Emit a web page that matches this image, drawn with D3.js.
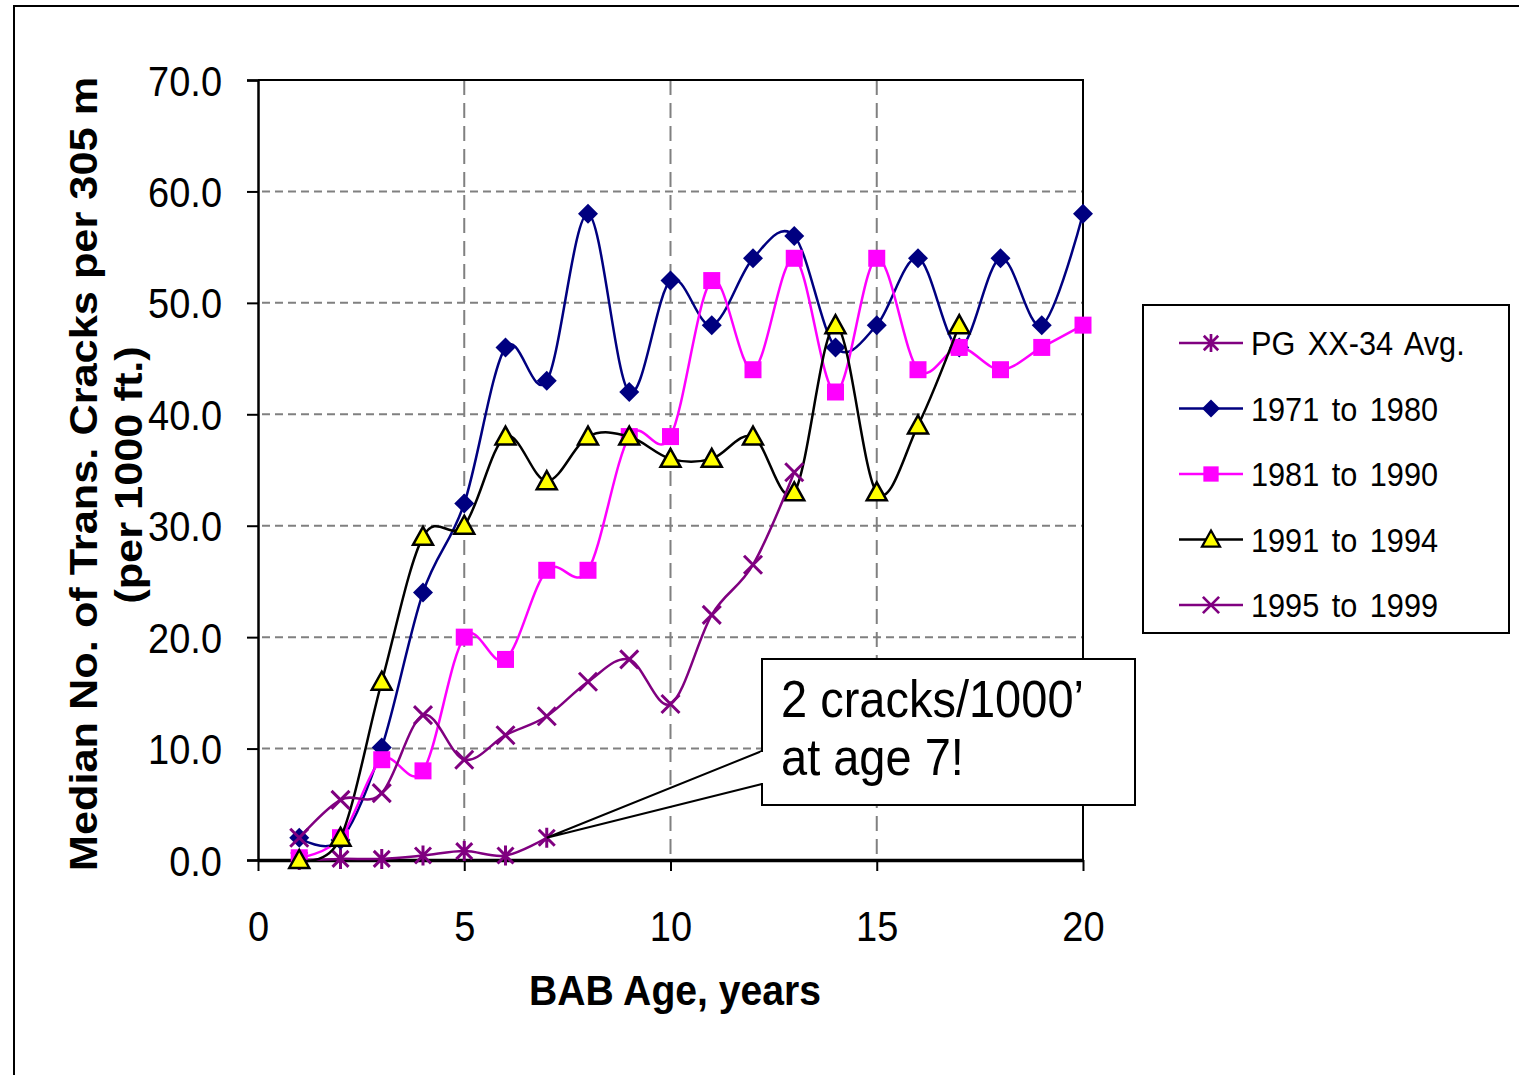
<!DOCTYPE html>
<html lang="en">
<head>
<meta charset="utf-8">
<title>Median transverse cracks by BAB age</title>
<script src="https://d3js.org/d3.v7.min.js"></script>
<style>
  body { margin: 0; background: #fff; }
  svg { display: block; font-family: "Liberation Sans", Arial, sans-serif; }
  .grid-h { stroke: #808080; stroke-width: 2; stroke-dasharray: 8 5; }
  .grid-v { stroke: #808080; stroke-width: 2; stroke-dasharray: 15 8; }
  .series { fill: none; stroke-width: 2.5; }
  .tick-label { font-size: 38px; fill: #000; }
  .axis-title { font-size: 38px; font-weight: bold; fill: #000; }
  .legend-text { font-size: 31px; fill: #000; word-spacing: 4px; }
  .callout-text { font-size: 47px; fill: #000; }
</style>
</head>
<body>
<div id="chart"></div>
<script>

// chart values
var ages = d3.range(1, 21);

var pgAvg     = [0.0, 0.1, 0.1, 0.4, 0.8, 0.4, 2.0];
var y1971     = [2.0, 1.8, 10.1, 24.0, 32.0, 46.0, 43.0, 58.0, 42.0, 52.0,
                 48.0, 54.0, 56.0, 46.0, 48.0, 54.0, 46.0, 54.0, 48.0, 58.0];
var y1981     = [0.2, 2.0, 9.0, 8.0, 20.0, 18.0, 26.0, 26.0, 38.0, 38.0,
                 52.0, 44.0, 54.0, 42.0, 54.0, 44.0, 46.0, 44.0, 46.0, 48.0];
var y1991     = [0.0, 2.0, 16.0, 29.0, 30.0, 38.0, 34.0, 38.0, 38.0, 36.0,
                 36.0, 38.0, 33.0, 48.0, 33.0, 39.0, 48.0];
var y1995     = [2.0, 5.4, 6.0, 13.0, 9.0, 11.2, 12.9, 16.0, 18.0, 14.0,
                 22.0, 26.5, 34.8];

var seriesNames = ["PG XX-34  Avg.", "1971  to  1980", "1981  to  1990", "1991  to  1994", "1995  to  1999"];
var xTicks = [0, 5, 10, 15, 20];
var yTicks = [0, 10, 20, 30, 40, 50, 60, 70];
var calloutLines = ["2 cracks/1000\u2019", "at age 7!"];
var calloutAge = 7;

// layout
var W = 1519, H = 1075;
var plot = {left: 258, right: 1083, top: 80, bottom: 860};
var stretch = 1.1;   // the original's text is a bit taller than plain Arial

var svg = d3.select("#chart").append("svg")
    .attr("width", W)
    .attr("height", H);

// outer chart frame (only left and top edges are visible)
svg.append("rect")
    .attr("x", 14).attr("y", 6)
    .attr("width", W + 20).attr("height", H + 20)
    .attr("fill", "none").attr("stroke", "#000").attr("stroke-width", 2);

var x = d3.scaleLinear().domain([0, 20]).range([plot.left, plot.right]);
var y = d3.scaleLinear().domain([0, 70]).range([plot.bottom, plot.top]);

// gridlines
svg.append("g").selectAll("line")
    .data(yTicks.filter(function(d) { return d > 0 && d < 70; }))
    .enter().append("line")
    .attr("class", "grid-h")
    .attr("x1", x(0) + 4).attr("x2", x(20))
    .attr("y1", function(d) { return y(d); })
    .attr("y2", function(d) { return y(d); });

svg.append("g").selectAll("line")
    .data([5, 10, 15])
    .enter().append("line")
    .attr("class", "grid-v")
    .attr("y1", y(70)).attr("y2", y(0))
    .attr("x1", function(d) { return x(d); })
    .attr("x2", function(d) { return x(d); });

// plot frame (top + right)
svg.append("path")
    .attr("d", "M" + x(0) + "," + y(70) + "H" + x(20) + "V" + y(0))
    .attr("fill", "none").attr("stroke", "#000").attr("stroke-width", 2);

// y axis
var yAxis = svg.append("g")
    .attr("transform", "translate(" + x(0) + ",0)")
    .call(d3.axisLeft(y).tickValues(yTicks).tickSize(11).tickFormat(d3.format(".1f")));
yAxis.attr("font-family", null).attr("font-size", null);
yAxis.select(".domain").attr("stroke", "#000").attr("stroke-width", 2.5);
yAxis.selectAll(".tick line").attr("stroke", "#000").attr("stroke-width", 2);
yAxis.selectAll(".tick text")
    .attr("class", "tick-label")
    .attr("x", -36)
    .attr("dy", "0.36em")
    .attr("transform", "scale(1," + stretch + ")");

// x axis
var xAxis = svg.append("g")
    .attr("transform", "translate(0," + y(0) + ")")
    .call(d3.axisBottom(x).tickValues(xTicks).tickSize(11).tickSizeOuter(0));
xAxis.attr("font-family", null).attr("font-size", null);
xAxis.select(".domain").attr("stroke", "#000").attr("stroke-width", 3.5);
xAxis.selectAll(".tick line").attr("stroke", "#000").attr("stroke-width", 2);
xAxis.selectAll(".tick text")
    .attr("class", "tick-label")
    .attr("y", 47)
    .attr("dy", "0.71em")
    .attr("transform", "scale(1," + stretch + ")");

// axis titles
svg.append("text")
    .attr("class", "axis-title")
    .attr("text-anchor", "middle")
    .attr("transform", "translate(675,1005) scale(1.03," + stretch + ")")
    .text("BAB Age, years");

svg.append("text")
    .attr("class", "axis-title")
    .attr("text-anchor", "middle")
    .attr("transform", "translate(97,474) rotate(-90) scale(1.14,1.04)")
    .text("Median No. of Trans. Cracks per 305 m");

svg.append("text")
    .attr("class", "axis-title")
    .attr("text-anchor", "middle")
    .attr("transform", "translate(142,475) rotate(-90) scale(1.14,1.04)")
    .text("(per 1000 ft.)");

// marker shapes
var sym = {
  diamond: "M0,-10L10,0L0,10L-10,0Z",
  square: d3.symbol().type(d3.symbolSquare).size(289)(),
  triangle: "M0,-10L10,8L-10,8Z",
  cross: "M-9,-9L9,9M-9,9L9,-9",
  star: "M-8,-8L8,8M-8,8L8,-8M0,-10L0,10"
};

var series = [
  {name: seriesNames[0], values: pgAvg, color: "#800080", shape: "star",     fill: "none",    stroke: "#800080"},
  {name: seriesNames[1], values: y1971, color: "#000080", shape: "diamond",  fill: "#000080", stroke: "none"},
  {name: seriesNames[2], values: y1981, color: "#FF00FF", shape: "square",   fill: "#FF00FF", stroke: "none"},
  {name: seriesNames[3], values: y1991, color: "#000000", shape: "triangle", fill: "#FFFF00", stroke: "#000"},
  {name: seriesNames[4], values: y1995, color: "#800080", shape: "cross",    fill: "none",    stroke: "#800080"}
];

var line = d3.line()
    .x(function(d, i) { return x(ages[i]); })
    .y(function(d) { return y(d); })
    .curve(d3.curveCardinal.tension(0));

series.forEach(function(s) {
  svg.append("path")
      .attr("class", "series")
      .attr("stroke", s.color)
      .attr("d", line(s.values));

  svg.append("g").selectAll("path")
      .data(s.values)
      .enter().append("path")
      .attr("transform", function(d, i) { return "translate(" + x(ages[i]) + "," + y(d) + ")"; })
      .attr("d", sym[s.shape])
      .attr("fill", s.fill)
      .attr("stroke", s.stroke)
      .attr("stroke-width", s.shape === "triangle" ? 2.5 : 3)
      .attr("stroke-linejoin", "miter");
});

// callout box with pointer to age 7 on the PG average
var box = {x: 762, y: 659, w: 373, h: 146};
var px = x(calloutAge), py = y(pgAvg[calloutAge - 1]);
svg.append("path")
    .attr("d", "M" + box.x + "," + 751 + "L" + px + "," + py + "L" + box.x + "," + 784)
    .attr("fill", "#fff").attr("stroke", "#000").attr("stroke-width", 2);
svg.append("rect")
    .attr("x", box.x).attr("y", box.y)
    .attr("width", box.w).attr("height", box.h)
    .attr("fill", "#fff").attr("stroke", "#000").attr("stroke-width", 2);
svg.append("path")
    .attr("d", "M" + (box.x) + "," + 752 + "V" + 783)
    .attr("stroke", "#fff").attr("stroke-width", 3);
svg.selectAll(".callout-text")
    .data(calloutLines)
    .enter().append("text")
    .attr("class", "callout-text")
    .attr("transform", function(d, i) { return "translate(781," + (717 + i * 58) + ") scale(1," + stretch + ")"; })
    .text(function(d) { return d; });

// legend
var legend = svg.append("g").attr("transform", "translate(1143,305)");
legend.append("rect")
    .attr("width", 366).attr("height", 328)
    .attr("fill", "#fff").attr("stroke", "#000").attr("stroke-width", 2);

var items = legend.selectAll(".item")
    .data(series)
    .enter().append("g")
    .attr("class", "item")
    .attr("transform", function(d, i) { return "translate(0," + (38 + i * 65.5) + ")"; });

items.append("line")
    .attr("x1", 36).attr("x2", 100)
    .attr("stroke", function(d) { return d.color; })
    .attr("stroke-width", 2.5);
items.append("path")
    .attr("transform", "translate(68,0) scale(0.9)")
    .attr("d", function(d) { return sym[d.shape]; })
    .attr("fill", function(d) { return d.fill; })
    .attr("stroke", function(d) { return d.stroke; })
    .attr("stroke-width", function(d) { return d.shape === "triangle" ? 2.5 : 3; });
items.append("text")
    .attr("class", "legend-text")
    .attr("transform", "translate(108,0) scale(0.99," + stretch + ")")
    .attr("dy", "0.36em")
    .text(function(d) { return d.name; });

</script>
</body>
</html>
